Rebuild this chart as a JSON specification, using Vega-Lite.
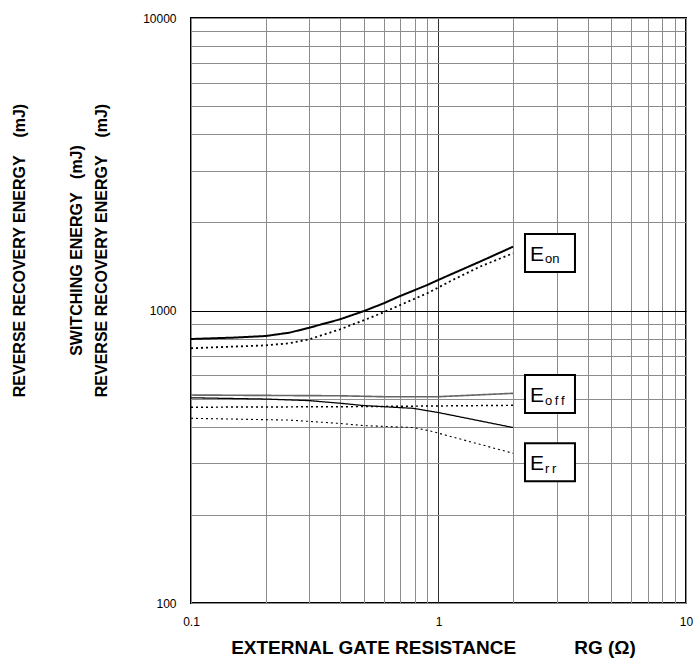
{
  "$schema": "https://vega.github.io/schema/vega-lite/v6.json",
  "width": 495,
  "height": 585,
  "autosize": {"type": "none"},
  "padding": {"left": 191, "top": 18, "right": 9, "bottom": 61},
  "background": "white",
  "config": {
    "view": {"stroke": "black", "strokeWidth": 2},
    "font": "Liberation Sans"
  },
  "resolve": {"axis": {"y": "independent"}},
  "datasets": {
    "curves": [
      {"series": "Eon", "rg": 0.1, "e": 799},
      {"series": "Eon", "rg": 0.15, "e": 808},
      {"series": "Eon", "rg": 0.2, "e": 818},
      {"series": "Eon", "rg": 0.25, "e": 840},
      {"series": "Eon", "rg": 0.3, "e": 873},
      {"series": "Eon", "rg": 0.4, "e": 933},
      {"series": "Eon", "rg": 0.5, "e": 996},
      {"series": "Eon", "rg": 0.6, "e": 1058},
      {"series": "Eon", "rg": 0.7, "e": 1121},
      {"series": "Eon", "rg": 0.9, "e": 1222},
      {"series": "Eon", "rg": 1.0, "e": 1273},
      {"series": "Eon", "rg": 1.47, "e": 1469},
      {"series": "Eon", "rg": 2.0, "e": 1652},
      {"series": "Eon_d", "rg": 0.1, "e": 743},
      {"series": "Eon_d", "rg": 0.2, "e": 760},
      {"series": "Eon_d", "rg": 0.25, "e": 773},
      {"series": "Eon_d", "rg": 0.3, "e": 797},
      {"series": "Eon_d", "rg": 0.4, "e": 862},
      {"series": "Eon_d", "rg": 0.51, "e": 933},
      {"series": "Eon_d", "rg": 0.6, "e": 986},
      {"series": "Eon_d", "rg": 0.9, "e": 1145},
      {"series": "Eon_d", "rg": 1.14, "e": 1271},
      {"series": "Eon_d", "rg": 1.47, "e": 1412},
      {"series": "Eon_d", "rg": 2.0, "e": 1569},
      {"series": "Eoff", "rg": 0.1, "e": 514},
      {"series": "Eoff", "rg": 0.4, "e": 511},
      {"series": "Eoff", "rg": 0.62, "e": 507},
      {"series": "Eoff", "rg": 0.98, "e": 507},
      {"series": "Eoff", "rg": 2.0, "e": 521},
      {"series": "Eoff_d", "rg": 0.1, "e": 467},
      {"series": "Eoff_d", "rg": 0.43, "e": 469},
      {"series": "Eoff_d", "rg": 2.0, "e": 474},
      {"series": "Err", "rg": 0.1, "e": 503},
      {"series": "Err", "rg": 0.2, "e": 498},
      {"series": "Err", "rg": 0.3, "e": 492},
      {"series": "Err", "rg": 0.4, "e": 482},
      {"series": "Err", "rg": 0.5, "e": 473},
      {"series": "Err", "rg": 0.79, "e": 463},
      {"series": "Err", "rg": 1.01, "e": 447},
      {"series": "Err", "rg": 2.0, "e": 398},
      {"series": "Err_d", "rg": 0.1, "e": 428},
      {"series": "Err_d", "rg": 0.25, "e": 422},
      {"series": "Err_d", "rg": 0.4, "e": 411},
      {"series": "Err_d", "rg": 0.5, "e": 404},
      {"series": "Err_d", "rg": 0.79, "e": 398},
      {"series": "Err_d", "rg": 0.92, "e": 388},
      {"series": "Err_d", "rg": 2.0, "e": 325}
    ],
    "boxes": [
      {"name": "on", "x1": 2.236, "x2": 3.56, "y1": 1826, "y2": 1354, "yc": 1573},
      {"name": "o\u2009f\u2009f", "x1": 2.236, "x2": 3.56, "y1": 602, "y2": 446, "yc": 518},
      {"name": "r\u2009r", "x1": 2.236, "x2": 3.56, "y1": 352, "y2": 261, "yc": 303}
    ]
  },
  "layer": [
    {
      "data": {"name": "curves"},
      "mark": {"type": "line", "clip": true},
      "encoding": {
        "x": {
          "field": "rg", "type": "quantitative",
          "scale": {"type": "log", "domain": [0.1, 10], "nice": false},
          "axis": {
            "values": [0.1, 0.2, 0.3, 0.4, 0.5, 0.6, 0.7, 0.8, 0.9, 1, 2, 3, 4, 5, 6, 7, 8, 9, 10],
            "labelExpr": "datum.value == 0.1 || datum.value == 1 || datum.value == 10 ? format(datum.value, '~g') : ''",
            "grid": true,
            "gridColor": {"condition": {"test": "datum.value == 1", "value": "#333333"}, "value": "#8c8c8c"},
            "gridWidth": 1,
            "domain": false,
            "ticks": false,
            "labelFontSize": 12,
            "labelColor": "#000000",
            "labelPadding": 13,
            "labelFlush": false,
            "title": "EXTERNAL GATE RESISTANCE\u00a0\u00a0\u00a0\u00a0\u00a0\u00a0\u00a0\u00a0\u00a0\u00a0\u00a0RG\u00a0(Ω)",
            "titleFontSize": 19,
            "titleFontWeight": "bold",
            "titleColor": "#000000",
            "titlePadding": 11,
            "titleX": 242
          }
        },
        "y": {
          "field": "e", "type": "quantitative",
          "scale": {"type": "log", "domain": [100, 10000], "nice": false},
          "axis": {
            "orient": "left",
            "values": [100, 200, 300, 400, 500, 600, 700, 800, 900, 1000, 2000, 3000, 4000, 5000, 6000, 7000, 8000, 9000, 10000],
            "labelExpr": "datum.value == 100 || datum.value == 1000 || datum.value == 10000 ? format(datum.value, 'd') : ''",
            "grid": true,
            "gridColor": {"condition": {"test": "datum.value == 1000", "value": "#000000"}, "value": "#8c8c8c"},
            "gridWidth": 1,
            "domain": false,
            "ticks": false,
            "labelFontSize": 12,
            "labelColor": "#000000",
            "labelPadding": 15,
            "labelFlush": false,
            "title": ["SWITCHING ENERGY\u00a0\u00a0\u00a0(mJ)", "REVERSE RECOVERY ENERGY\u00a0\u00a0\u00a0\u00a0(mJ)"],
            "titleFontSize": 16,
            "titleFontWeight": "bold",
            "titleColor": "#000000",
            "titleLineHeight": 25,
            "titleAngle": -90,
            "titleAlign": "center",
            "titleBaseline": "alphabetic",
            "titleX": -109.7,
            "titleY": 232
          }
        },
        "detail": {"field": "series"},
        "color": {
          "field": "series", "type": "nominal", "legend": null,
          "scale": {"domain": ["Eon", "Eon_d", "Eoff", "Eoff_d", "Err", "Err_d"],
                    "range": ["#000000", "#000000", "#666666", "#000000", "#000000", "#000000"]}
        },
        "strokeDash": {
          "field": "series", "type": "nominal", "legend": null,
          "scale": {"domain": ["Eon", "Eon_d", "Eoff", "Eoff_d", "Err", "Err_d"],
                    "range": [[1, 0], [2, 3], [1, 0], [2, 3], [1, 0], [2, 3]]}
        },
        "strokeWidth": {
          "field": "series", "type": "nominal", "legend": null,
          "scale": {"domain": ["Eon", "Eon_d", "Eoff", "Eoff_d", "Err", "Err_d"],
                    "range": [2, 1.1, 2, 1.1, 2, 1.1]}
        }
      }
    },
    {
      "data": {"name": "boxes"},
      "mark": {"type": "rect", "fill": "white", "stroke": "black", "strokeWidth": 2},
      "encoding": {
        "x": {"field": "x1", "type": "quantitative"},
        "x2": {"field": "x2"},
        "y": {
          "field": "y1", "type": "quantitative",
          "axis": {
            "orient": "left",
            "labels": false,
            "ticks": false,
            "domain": false,
            "grid": false,
            "title": "REVERSE RECOVERY ENERGY\u00a0\u00a0\u00a0\u00a0(mJ)",
            "titleFontSize": 16,
            "titleFontWeight": "bold",
            "titleColor": "#000000",
            "titleAngle": -90,
            "titleAlign": "center",
            "titleBaseline": "alphabetic",
            "titleX": -166.5,
            "titleY": 232
          }
        },
        "y2": {"field": "y2"}
      }
    },
    {
      "data": {"name": "boxes"},
      "mark": {"type": "text", "text": "E", "fontSize": 21, "align": "left", "baseline": "alphabetic", "dx": 5, "dy": 8, "color": "black"},
      "encoding": {
        "x": {"field": "x1", "type": "quantitative"},
        "y": {"field": "yc", "type": "quantitative", "axis": null}
      }
    },
    {
      "data": {"name": "boxes"},
      "mark": {"type": "text", "fontSize": 13, "align": "left", "baseline": "alphabetic", "dx": 20, "dy": 10.5, "color": "black"},
      "encoding": {
        "x": {"field": "x1", "type": "quantitative"},
        "y": {"field": "yc", "type": "quantitative", "axis": null},
        "text": {"field": "name"}
      }
    }
  ]
}
